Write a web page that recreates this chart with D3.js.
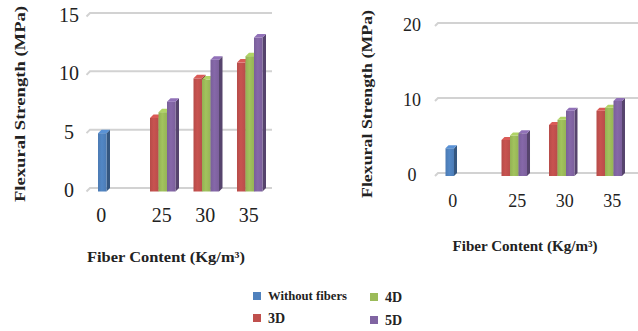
<!DOCTYPE html>
<html><head><meta charset="utf-8">
<script src="https://cdn.jsdelivr.net/npm/d3@7"></script>
<style>
html,body{margin:0;padding:0;background:#fff;}
svg{display:block;}
</style></head>
<body>
<svg id="chart" width="638" height="331"></svg>
<script>
// ---- data ----
const categories = ["0", "25", "30", "35"];
const seriesNames = ["Without fibers", "3D", "4D", "5D"];
const seriesColors = ["#4F81BD", "#C0504D", "#9BBB59", "#8064A2"];

// left chart
const leftWithoutFibers = [5.0, null, null, null];
const left3D = [null, 6.3, 9.7, 11.05];
const left4D = [null, 6.8, 9.6, 11.6];
const left5D = [null, 7.7, 11.3, 13.2];
const leftTicks = [0, 5, 10, 15];

// right chart
const rightWithoutFibers = [3.7, null, null, null];
const right3D = [null, 4.8, 6.8, 8.7];
const right4D = [null, 5.4, 7.5, 9.1];
const right5D = [null, 5.7, 8.7, 10.0];
const rightTicks = [0, 10, 20];

const xTitle = "Fiber Content (Kg/m³)";
const yTitle = "Flexural Strength (MPa)";

const FONT = "'Liberation Serif', 'DejaVu Serif', 'Times New Roman', Times, serif";

const svg = d3.select("#chart");
const defs = svg.append("defs");

function shade(c, k) { return d3.color(c).darker(k).formatHex(); }
function light(c, k) { return d3.color(c).brighter(k).formatHex(); }

seriesColors.forEach((c, i) => {
  const g = defs.append("linearGradient").attr("id", "g" + i)
    .attr("x1", "0").attr("x2", "1").attr("y1", "0").attr("y2", "0");
  g.append("stop").attr("offset", "0").attr("stop-color", shade(c, 0.15));
  g.append("stop").attr("offset", "0.45").attr("stop-color", light(c, 0.12));
  g.append("stop").attr("offset", "1").attr("stop-color", shade(c, 0.1));
});

function txt(sel) {
  return sel.attr("font-family", FONT).attr("fill", "#222");
}

function drawChart(cfg) {
  const g = svg.append("g");
  const series = cfg.series;
  const y = d3.scaleLinear().domain(cfg.domain).range(cfg.yRange);
  const depth = cfg.depth;
  const yF = v => y(v) + depth;

  const x = d3.scaleBand().domain(categories).range(cfg.xRange).paddingInner(cfg.padInner).paddingOuter(0);
  const xs = d3.scaleBand().domain(d3.range(series.length)).range([0, x.bandwidth()]).padding(0);

  // gridlines (back wall)
  const gl = g.append("g");
  cfg.ticks.forEach(t => {
    gl.append("path")
      .attr("d", `M${cfg.gridX[0] - depth},${y(t) + depth}L${cfg.gridX[0]},${y(t)}L${cfg.gridX[1]},${y(t)}`)
      .attr("fill", "none").attr("stroke", "#d2d2d2").attr("stroke-width", 2);
  });

  // tick labels y
  cfg.ticks.forEach(t => {
    txt(g.append("text")).attr("x", cfg.yLabelX).attr("y", y(t) + 2)
      .attr("text-anchor", "middle").attr("dominant-baseline", "central")
      .attr("font-size", cfg.tickSize).text(t);
  });

  // bars
  const w = xs.bandwidth();
  categories.forEach((cat, ci) => {
    series.forEach((arr, si) => {
      const v = arr[ci];
      if (v == null) return;
      const x0 = x(cat) + xs(si);
      const top = yF(v), base = yF(0);
      const col = seriesColors[si];
      g.append("path")
        .attr("d", `M${x0 + w},${top}L${x0 + w + depth},${top - depth}L${x0 + w + depth},${base - depth}L${x0 + w},${base}Z`)
        .attr("fill", shade(col, 1.1));
      g.append("rect").attr("x", x0).attr("y", top).attr("width", w).attr("height", base - top)
        .attr("fill", `url(#g${si})`);
      g.append("path")
        .attr("d", `M${x0},${top}L${x0 + depth},${top - depth}L${x0 + w + depth},${top - depth}L${x0 + w},${top}Z`)
        .attr("fill", light(col, 0.35));
    });
  });

  // x tick labels centered under present bars
  categories.forEach((cat, ci) => {
    const centers = series.map((arr, si) => arr[ci] == null ? null : x(cat) + xs(si) + w / 2).filter(d => d != null);
    txt(g.append("text")).attr("x", d3.mean(centers) + cfg.xLabelShift).attr("y", cfg.xLabelY)
      .attr("text-anchor", "middle").attr("dominant-baseline", "central")
      .attr("font-size", cfg.tickSize).text(cat);
  });

  // axis titles
  txt(g.append("text")).attr("x", cfg.xTitlePos[0]).attr("y", cfg.xTitlePos[1])
    .attr("text-anchor", "middle").attr("dominant-baseline", "central")
    .attr("textLength", cfg.xTitleLen).attr("lengthAdjust", "spacingAndGlyphs")
    .attr("font-size", cfg.titleSize).attr("font-weight", "bold").text(xTitle);
  txt(g.append("text"))
    .attr("transform", `translate(${cfg.yTitlePos[0]},${cfg.yTitlePos[1]}) rotate(-90)`)
    .attr("text-anchor", "middle").attr("dominant-baseline", "central")
    .attr("textLength", cfg.yTitleLen).attr("lengthAdjust", "spacingAndGlyphs")
    .attr("font-size", cfg.titleSize).attr("font-weight", "bold").text(yTitle);
}

drawChart({
  series: [leftWithoutFibers, left3D, left4D, left5D],
  domain: [0, 15], yRange: [188, 13], depth: 3.5,
  xRange: [98, 262.5], padInner: 0.218,
  gridX: [90, 272], ticks: leftTicks, yLabelX: 69, tickSize: 20,
  xLabelY: 215, xLabelShift: -1,
  xTitlePos: [166, 257], xTitleLen: 158, titleSize: 15,
  yTitlePos: [20, 104], yTitleLen: 196
});

drawChart({
  series: [rightWithoutFibers, right3D, right4D, right5D],
  domain: [0, 20], yRange: [173, 23], depth: 3,
  xRange: [445.5, 622], padInner: 0.284,
  gridX: [438, 640], ticks: rightTicks, yLabelX: 412, tickSize: 18,
  xLabelY: 201, xLabelShift: 3,
  xTitlePos: [525, 246], xTitleLen: 145, titleSize: 14,
  yTitlePos: [367, 104], yTitleLen: 188
});

// legend
const legendItems = [
  { name: seriesNames[0], color: seriesColors[0], x: 253, y: 296, size: 12, len: 79 },
  { name: seriesNames[2], color: seriesColors[2], x: 370, y: 297, size: 14, len: null },
  { name: seriesNames[1], color: seriesColors[1], x: 253, y: 318, size: 14, len: null },
  { name: seriesNames[3], color: seriesColors[3], x: 370, y: 320, size: 14, len: null }
];
const lg = svg.append("g");
legendItems.forEach(d => {
  lg.append("rect").attr("x", d.x).attr("y", d.y - 4).attr("width", 8).attr("height", 8).attr("fill", d.color);
  const t = txt(lg.append("text")).attr("x", d.x + 15).attr("y", d.y)
    .attr("dominant-baseline", "central").attr("font-size", d.size).attr("font-weight", "bold").text(d.name);
  if (d.len) t.attr("textLength", d.len).attr("lengthAdjust", "spacingAndGlyphs");
});
</script>
</body></html>
